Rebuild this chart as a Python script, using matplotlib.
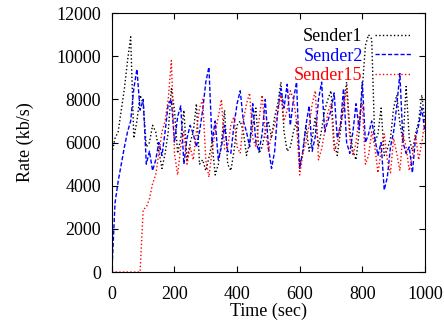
import numpy as np
import matplotlib
matplotlib.use("Agg")
import matplotlib.pyplot as plt

plt.rcParams['font.family'] = ['Liberation Serif', 'DejaVu Serif']
plt.rcParams['font.size'] = 13

# time axis, one sample every 10 s
time = np.arange(0, 1001, 10)

sender1 = [5500, 6200, 6500, 7500, 8500, 9800, 10900, 6200, 7000, 8200,
           7800, 5800, 6000, 6800, 6500, 5600, 4800, 5500, 6500, 8500,
           7500, 5500, 6200, 7500, 5200, 6000, 6500, 7800, 5000, 5200,
           4700, 5300, 6000, 4500, 5000, 6000, 7500, 5000, 4700, 5600,
           6800, 7000, 6500, 5400, 6000, 6800, 7600, 5500, 5800, 6500,
           7000, 6200, 7200, 7800, 8800, 6500, 5600, 5800, 6500, 7000,
           5000, 5500, 6800, 5600, 6200, 7200, 5800, 6600, 7500, 8000,
           8400, 6000, 5400, 6500, 7800, 8800, 6600, 5600, 5200, 6500,
           8500, 10500, 11000, 10800, 6000, 6400, 7600, 5400, 5700, 6200,
           7600, 8200, 6900, 6000, 8600, 6200, 5600, 6400, 7000, 8200,
           7000]

sender2 = [0, 3200, 4200, 5000, 5800, 6500, 7000, 8500, 9400, 7500,
           8000, 5000, 5600, 4700, 5200, 6000, 5400, 6500, 7800, 8000,
           6000, 7200, 7700, 5000, 6200, 6800, 6400, 5800, 6500, 7500,
           8800, 9500, 6000, 7000, 5200, 5800, 6800, 5600, 5500, 6800,
           7800, 8400, 7000, 6500, 5800, 7800, 6000, 5600, 6400, 8000,
           5800, 4800, 5600, 7500, 8500, 7600, 8700, 6800, 8000, 8800,
           4800, 5600, 6800, 7700, 5600, 6300, 8000, 8800, 6500, 7000,
           7500, 8300, 6200, 6800, 8500, 6000, 5500, 6500, 7800, 6600,
           8800, 6000, 6400, 7000, 6200, 5400, 6000, 3800, 4400, 5800,
           6500, 7700, 9200, 6000, 5500, 5800, 4600, 6200, 6800, 7600,
           6500]

sender15 = [0, 0, 0, 0, 0, 0, 0, 0, 0, 0,
            2900, 3000, 3400, 4100, 4500, 5500, 6500, 7000, 8000, 9800,
            5500, 4500, 5800, 6500, 5000, 5800, 5200, 6500, 7600, 8000,
            5200, 4400, 5600, 6500, 7200, 8000, 5700, 5800, 6800, 7200,
            5800, 5500, 7000, 7800, 8300, 6200, 5800, 7000, 8200, 6500,
            5600, 6400, 6800, 7400, 8200, 7000, 7500, 8400, 8000, 7000,
            4500, 5500, 6000, 6800, 7800, 8400, 5200, 5700, 6500, 7400,
            7800, 5600, 6000, 6800, 7500, 8500, 6200, 5400, 6000, 7200,
            7800, 5000, 5400, 6500, 5800, 4600, 5600, 6400, 5200, 4600,
            6200, 5500, 4700, 6400, 5800, 4700, 5400, 6400, 5200, 6000,
            7000]

fig = plt.figure(figsize=(4.44, 3.27), dpi=100)
ax = fig.add_axes([0.252, 0.168, 0.705, 0.792])

ax.plot(time, sender1, color="black", linestyle=":", linewidth=1, label="Sender1")
ax.plot(time, sender2, color="blue", linestyle=(0, (3, 1.5)), linewidth=1, label="Sender2")
ax.plot(time, sender15, color="red", linestyle=":", linewidth=1, label="Sender15")

ax.set_xlim(0, 1000)
ax.set_ylim(0, 12000)
ax.set_xticks(range(0, 1001, 200))
ax.set_yticks(range(0, 12001, 2000))
ax.tick_params(direction="in", top=True, right=True, length=4)
ax.tick_params(axis="x", pad=10)
ax.tick_params(axis="y", pad=8)
ax.set_xlabel("Time (sec)", labelpad=0)
ax.set_ylabel("Rate (kb/s)", labelpad=16)

ax.legend(loc="upper right", bbox_to_anchor=(0.98, 0.97), frameon=False,
          markerfirst=False, labelcolor="linecolor", handlelength=2.0,
          handletextpad=0.7, labelspacing=0.15, borderaxespad=0)

fig.savefig("out.png", dpi=100)
